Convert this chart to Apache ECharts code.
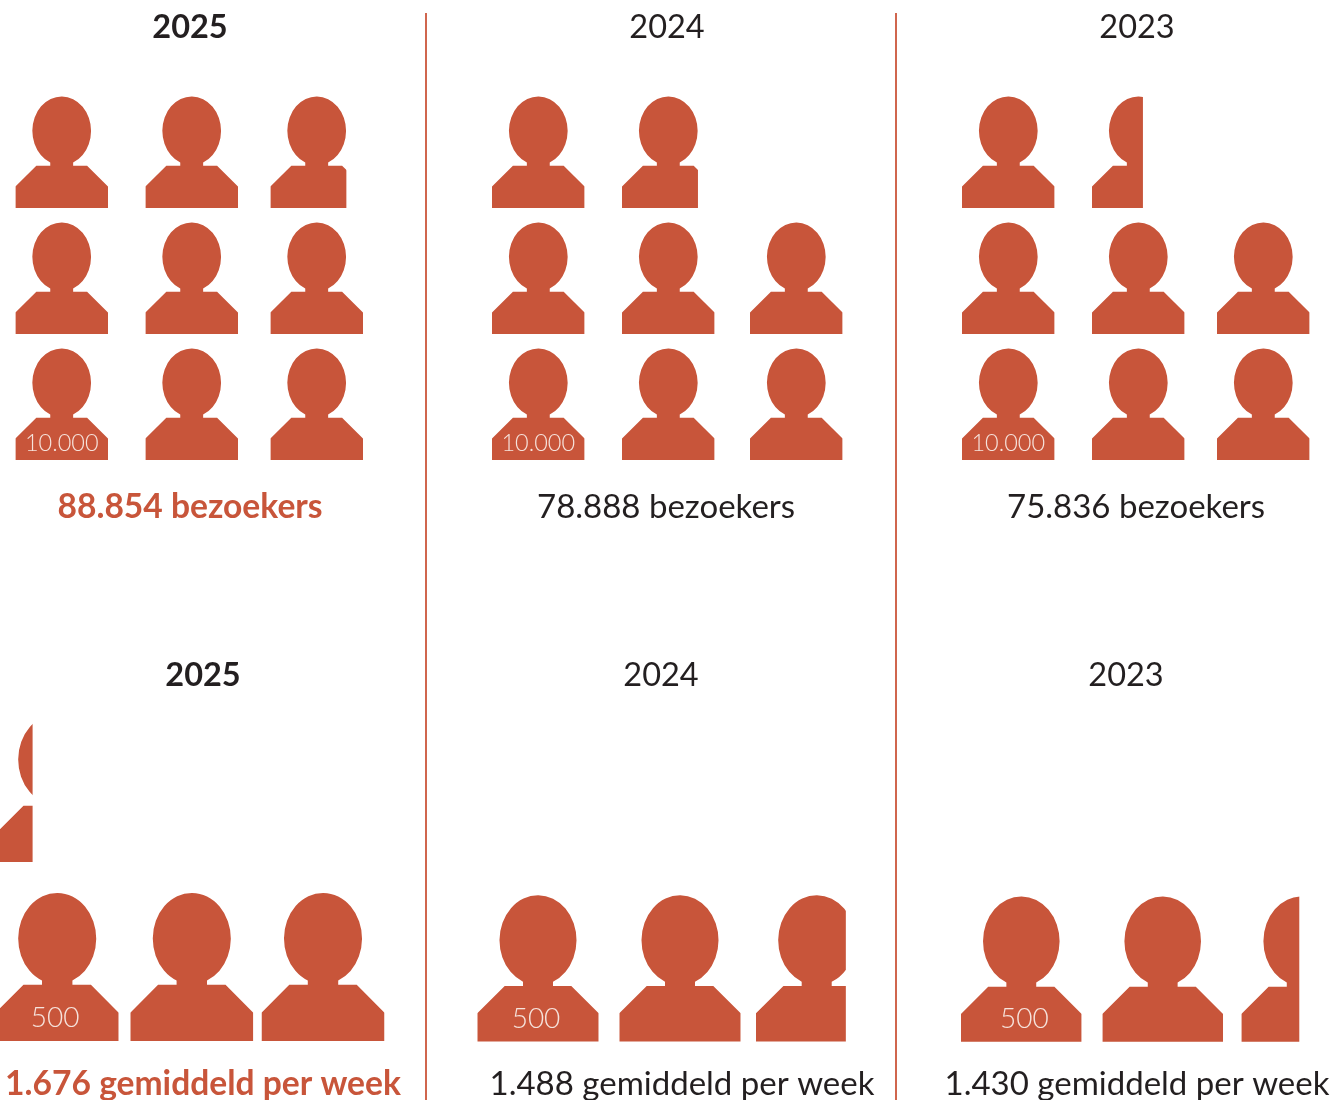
<!DOCTYPE html>
<html>
<head>
<meta charset="utf-8">
<title>Bezoekers</title>
<style>
  html, body { margin: 0; padding: 0; background: #fff; }
  #chart { width: 1330px; height: 1100px; }
</style>
<script src="https://cdn.jsdelivr.net/npm/echarts@6/dist/echarts.min.js"></script>
</head>
<body>
<div id="chart"></div>
<script>
// data: icons filled per row, top row first
const years = ['2025', '2024', '2023'];
const visitorCaptions = ['88.854 bezoekers', '78.888 bezoekers', '75.836 bezoekers'];
const weeklyCaptions = ['1.676 gemiddeld per week', '1.488 gemiddeld per week', '1.430 gemiddeld per week'];
const visitorRows2025 = [2.82, 3, 3];
const visitorRows2024 = [1.82, 3, 3];
const visitorRows2023 = [1.55, 3, 3];
const weeklyRows2025 = [0.3, 3];
const weeklyRows2024 = [2.74];
const weeklyRows2023 = [2.48];
const visitorUnit = '10.000';
const weeklyUnit = '500';

const RED = '#c8553a';
const DARK = '#231f20';
const FONT = 'Lato';

// person icon in a 93 x 112 box
const PERSON = 'M0 112L0 90.5L21 69.5L35 69.5L35 66.25A29.5 34.5 0 1 1 58 66.25L58 69.5L72 69.5L93 90.5L93 112Z';

// layout per panel: first icon centre, steps, icon size, middle column shift, unit label tweaks
const panels = [
  { rows: visitorRows2025, unit: visitorUnit, cx: 61.7, cy: 152.25, stepX: 127.5, stepY: 126, w: 92.7, h: 111.5, midShift: 2.5, labelDx: 0, labelDy: 39, labelSize: 23.5 },
  { rows: visitorRows2024, unit: visitorUnit, cx: 538.3, cy: 152.25, stepX: 129, stepY: 126, w: 92.7, h: 111.5, midShift: 1, labelDx: 0, labelDy: 39, labelSize: 23.5 },
  { rows: visitorRows2023, unit: visitorUnit, cx: 1008.3, cy: 152.25, stepX: 127.5, stepY: 126, w: 92.7, h: 111.5, midShift: 2.5, labelDx: 0, labelDy: 39, labelSize: 23.5 },
  { rows: weeklyRows2025, unit: weeklyUnit, cx: 57.2, cy: 788, stepX: 132.9, stepY: 179, w: 123, h: 148.3, midShift: 1.7, labelDx: -2, labelDy: 51, labelSize: 28 },
  { rows: weeklyRows2024, unit: weeklyUnit, cx: 538, cy: 968.3, stepX: 139.35, stepY: 150, w: 121.4, h: 146.7, midShift: 2.65, labelDx: -2, labelDy: 51, labelSize: 28 },
  { rows: weeklyRows2023, unit: weeklyUnit, cx: 1021.3, cy: 969.15, stepX: 140.2, stepY: 150, w: 120.7, h: 146.3, midShift: 1.2, labelDx: 3, labelDy: 50, labelSize: 28 }
];

// one data item per icon: [column, row, share of the icon that is filled]
function iconsFromRows(rows) {
  const items = [];
  rows.forEach((filled, row) => {
    for (let col = 0; col < Math.ceil(filled); col++) {
      items.push([col, row, Math.min(1, filled - col)]);
    }
  });
  return items;
}

function makeRenderItem(panel) {
  return function (params, api) {
    const col = api.value(0);
    const row = api.value(1);
    const share = api.value(2);
    const pos = api.coord([col, row]);
    const x = pos[0] - panel.w / 2 + (col === 1 ? panel.midShift : 0);
    const y = pos[1] - panel.h / 2;
    const children = [{
      type: 'path',
      shape: { pathData: PERSON, x: x, y: y, width: panel.w, height: panel.h },
      style: { fill: RED }
    }];
    // the unit label sits on the first icon of the last row
    if (col === 0 && row === panel.rows.length - 1) {
      children.push({
        type: 'text',
        style: {
          text: panel.unit, x: pos[0] + panel.labelDx, y: pos[1] + panel.labelDy,
          fill: '#f6e3dc', font: '300 ' + panel.labelSize + 'px ' + FONT,
          align: 'center', verticalAlign: 'middle'
        }
      });
    }
    return {
      type: 'group',
      clipPath: { type: 'rect', shape: { x: x, y: y - 1, width: panel.w * share, height: panel.h + 2 } },
      children: children
    };
  };
}

const grid = [];
const xAxis = [];
const yAxis = [];
const series = [];
panels.forEach((panel, i) => {
  // grid runs from the first to the last column centre so it stays inside the canvas
  grid.push({
    left: panel.cx, top: panel.cy - panel.stepY / 2,
    width: panel.stepX * 2, height: panel.stepY * panel.rows.length
  });
  xAxis.push({ type: 'value', gridIndex: i, show: false, min: 0, max: 2 });
  yAxis.push({ type: 'value', gridIndex: i, show: false, inverse: true, min: -0.5, max: panel.rows.length - 0.5 });
  series.push({
    type: 'custom', xAxisIndex: i, yAxisIndex: i, silent: true, animation: false,
    renderItem: makeRenderItem(panel), data: iconsFromRows(panel.rows)
  });
});

function heading(text, x, y, size, color, weight) {
  return {
    text: text, left: x, top: y, textAlign: 'center', textVerticalAlign: 'middle', padding: 0,
    textStyle: { fontFamily: FONT, fontSize: size, fontWeight: weight, color: color }
  };
}

const yearX = [[190, 667, 1137], [203, 661, 1126]];
const captionX = [[190, 666, 1136], [203, 682, 1137]];
const title = [];
years.forEach((year, i) => {
  const weight = i === 0 ? 'bold' : 'normal';
  const captionColor = i === 0 ? RED : DARK;
  const captionSize = i === 0 ? 33.6 : 33;
  title.push(heading(year, yearX[0][i], 27.5, 32.5, DARK, weight));
  title.push(heading(visitorCaptions[i], captionX[0][i], 507.5, captionSize, captionColor, weight));
  title.push(heading(year, yearX[1][i], 675.5, 32.5, DARK, weight));
  title.push(heading(weeklyCaptions[i], captionX[1][i], 1084.5, captionSize, captionColor, weight));
});

const divider = x => ({
  type: 'rect', silent: true,
  shape: { x: x, y: 13, width: 2, height: 1087 },
  style: { fill: '#d0664e' }
});

const chart = echarts.init(document.getElementById('chart'));
chart.setOption({
  animation: false,
  backgroundColor: '#fff',
  title: title,
  grid: grid,
  xAxis: xAxis,
  yAxis: yAxis,
  series: series,
  graphic: [divider(425), divider(895)]
});
</script>
</body>
</html>
